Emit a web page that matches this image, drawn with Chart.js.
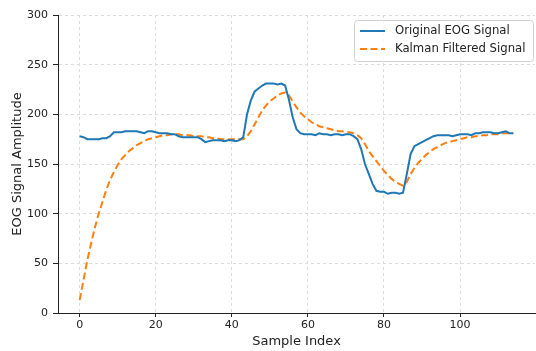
<!DOCTYPE html>
<html><head><meta charset="utf-8">
<script src="https://cdn.jsdelivr.net/npm/chart.js@4/dist/chart.umd.min.js"></script>
<style>html,body{margin:0;padding:0;background:#fff}#wrap{width:536px;height:351px;position:relative}</style>
</head><body><div id="wrap"><canvas id="c" width="536" height="351"></canvas></div>
<script>
const sampleIndex = Array.from({length: 115}, (_, i) => i);
const originalEOG = [
178,177,175,175,175,175,176,176,178,182,
182,182,183,183,183,183,182,181,183,183,
182,181,181,181,180,180,178,177,177,177,
177,177,175,172,173,174,174,174,173,174,
174,173,174,177,200,214,223,226,229,231,
231,231,230,231,229,215,197,185,181,180,
180,180,179,181,180,180,179,180,180,179,
180,180,178,175,165,150,140,130,123,122,
122,120,121,121,120,121,140,160,168,170,
172,174,176,178,179,179,179,179,178,179,
180,180,180,179,181,181,182,182,182,181,
181,182,183,181,181];
const kalmanFiltered = [
13,33,53,70,86,100,112,124,134,142,
149,155,159,163,166,169,171,173,175,176,
177,178,179,179,180,180,180,179,179,179,
178,178,178,177,177,176,176,175,175,175,
175,175,175,175,178,183,190,197,204,209,
213,216,219,221,222,219,213,207,202,198,
195,192,190,188,187,186,185,184,183,183,
182,182,181,179,176,170,163,158,153,148,
143,139,135,132,130,128,132,140,146,151,
155,159,162,165,167,169,171,172,173,174,
175,176,177,177,178,178,179,179,180,180,
180,181,181,181,181];
const xTicks = [0, 20, 40, 60, 80, 100];
const yTicks = [0, 50, 100, 150, 200, 250, 300];
const seriesLabels = ['Original EOG Signal', 'Kalman Filtered Signal'];

const FONT = "'DejaVu Sans', sans-serif";

const legendPlugin = {
  id: 'mplLegend',
  afterDraw(chart) {
    const ctx = chart.ctx;
    const x0 = 354, y0 = 20, w = 179, h = 41;
    ctx.save();
    ctx.fillStyle = 'rgba(255,255,255,0.8)';
    ctx.strokeStyle = '#d0d0d0';
    ctx.lineWidth = 1;
    ctx.beginPath();
    if (ctx.roundRect) ctx.roundRect(x0 + 0.5, y0 + 0.5, w, h, 3); else ctx.rect(x0 + 0.5, y0 + 0.5, w, h);
    ctx.fill(); ctx.stroke();
    chart.data.datasets.forEach((ds, i) => {
      const ly = y0 + 11 + i * 18;
      ctx.strokeStyle = ds.borderColor;
      ctx.lineWidth = 2;
      ctx.setLineDash(ds.borderDash || []);
      ctx.beginPath(); ctx.moveTo(x0 + 6, ly); ctx.lineTo(x0 + 31, ly); ctx.stroke();
      ctx.setLineDash([]);
      ctx.fillStyle = '#222';
      ctx.font = '11.7px ' + FONT;
      ctx.textBaseline = 'middle';
      ctx.textAlign = 'left';
      ctx.fillText(ds.label, x0 + 41, ly);
    });
    ctx.restore();
  }
};

new Chart(document.getElementById('c'), {
  type: 'line',
  data: {
    datasets: [
      { label: seriesLabels[0], data: sampleIndex.map((x, i) => ({x, y: originalEOG[i]})),
        borderColor: '#1f77b4', borderWidth: 2, pointRadius: 0, fill: false, tension: 0 },
      { label: seriesLabels[1], data: sampleIndex.map((x, i) => ({x, y: kalmanFiltered[i]})),
        borderColor: '#ff7f0e', borderWidth: 2, borderDash: [7, 3.5], pointRadius: 0, fill: false, tension: 0 }
    ]
  },
  options: {
    responsive: false, animation: false, devicePixelRatio: 1,
    layout: { padding: { top: 15, right: 1, left: 0, bottom: 0 } },
    plugins: { legend: { display: false }, tooltip: { enabled: false }, title: { display: false } },
    scales: {
      x: {
        type: 'linear', min: -5.7, max: 119.7,
        afterBuildTicks: s => { s.ticks = xTicks.map(v => ({value: v})); },
        afterFit: s => { s.height = 38; },
        ticks: { font: { family: FONT, size: 11 }, color: '#222', padding: 2, maxRotation: 0 },
        grid: { color: '#dcdcdc', tickColor: '#222', tickLength: 4, lineWidth: 1 },
        border: { display: true, color: '#222', width: 1, dash: [3, 3] },
        title: { display: true, text: 'Sample Index', font: { family: FONT, size: 13 }, color: '#222', padding: { top: 0, bottom: 2 } }
      },
      y: {
        type: 'linear', min: 0, max: 300,
        afterBuildTicks: s => { s.ticks = yTicks.map(v => ({value: v})); },
        afterFit: s => { s.width = 58; },
        ticks: { font: { family: FONT, size: 11 }, color: '#222', padding: 5 },
        grid: { color: '#dcdcdc', tickColor: '#222', tickLength: 5, lineWidth: 1 },
        border: { display: true, color: '#222', width: 1, dash: [3, 3] },
        title: { display: true, text: 'EOG Signal Amplitude', font: { family: FONT, size: 13 }, color: '#222', padding: { top: 10, bottom: 0 } }
      }
    }
  },
  plugins: [legendPlugin]
});
</script></body></html>
